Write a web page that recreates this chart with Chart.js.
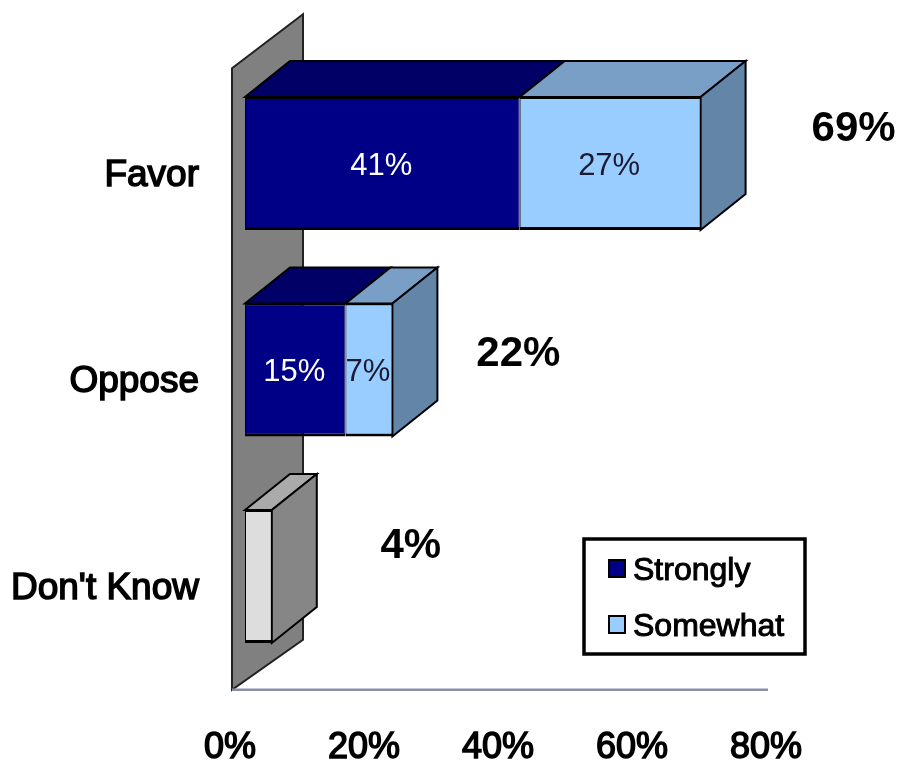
<!DOCTYPE html>
<html>
<head>
<meta charset="utf-8">
<title>Favor / Oppose</title>
<script src="https://cdn.jsdelivr.net/npm/chart.js@4"></script>
<style>
  html, body { margin: 0; padding: 0; background: #fff; }
  canvas { display: block; }
</style>
</head>
<body>
<canvas id="favorChart" width="901" height="762"></canvas>
<script>
  const categories = ["Favor", "Oppose", "Don't Know"];
  const strongly = [41, 15, null];
  const somewhat = [27, 7, null];
  const dontKnow = [null, null, 4];
  const totals = [69, 22, 4];

  const fontName = "'Liberation Sans', Arial, sans-serif";
  const depthX = 45;
  const depthY = 36;

  // front, top and side colours for each dataset
  const faces = [
    { front: "#000087", top: "#000066", side: "#000066" },
    { front: "#99ccff", top: "#7a9fc6", side: "#6285a8" },
    { front: "#dddddd", top: "#aaaaaa", side: "#868686" },
  ];

  // where the big total labels sit, relative to the end of each bar
  const totalOffsets = [[153, -34], [126, -16], [139, -30.5]];

  function poly(ctx, pts, fill, stroke, width) {
    ctx.beginPath();
    pts.forEach((p, i) => (i ? ctx.lineTo(p[0], p[1]) : ctx.moveTo(p[0], p[1])));
    ctx.closePath();
    ctx.fillStyle = fill;
    ctx.fill();
    ctx.strokeStyle = stroke;
    ctx.lineWidth = width;
    ctx.lineJoin = "miter";
    ctx.stroke();
  }

  const box3d = {
    id: "box3d",
    beforeDatasetsDraw(chart) {
      const ctx = chart.ctx;
      const area = chart.chartArea;
      const x0 = chart.scales.x.getPixelForValue(0) - 13;
      const xEnd = chart.scales.x.getPixelForValue(80) - 13;
      const wallTop = area.top + 8;
      const wallBottom = area.bottom + 10;

      // back wall
      poly(ctx, [
        [x0, wallTop],
        [x0 + 71, wallTop - 54],
        [x0 + 71, wallBottom - 50],
        [x0, wallBottom],
      ], "#808080", "#222222", 2);

      // floor line
      ctx.strokeStyle = "#8a8ea6";
      ctx.lineWidth = 2.5;
      ctx.beginPath();
      ctx.moveTo(x0, wallBottom);
      ctx.lineTo(xEnd, wallBottom);
      ctx.stroke();

      // tops and sides of the bars
      chart.data.datasets.forEach((ds, i) => {
        chart.getDatasetMeta(i).data.forEach((bar, j) => {
          if (ds.data[j] === null) return;
          const top = bar.y - bar.height / 2;
          const bottom = bar.y + bar.height / 2;
          poly(ctx, [
            [bar.base, top],
            [bar.base + depthX, top - depthY],
            [bar.x + depthX, top - depthY],
            [bar.x, top],
          ], faces[i].top, "#000", 2);

          const isLast = chart.data.datasets.slice(i + 1).every((d) => d.data[j] === null);
          if (isLast) {
            poly(ctx, [
              [bar.x, top],
              [bar.x + depthX, top - depthY],
              [bar.x + depthX, bottom - depthY],
              [bar.x, bottom],
            ], faces[i].side, "#000", 2);
          }
        });
      });
    },
    afterDraw(chart) {
      const ctx = chart.ctx;
      ctx.save();
      ctx.textBaseline = "middle";
      ctx.textAlign = "center";

      // values inside the segments
      ctx.font = "31px " + fontName;
      [0, 1].forEach((i) => {
        ctx.fillStyle = i === 0 ? "#ffffff" : "#1a1a33";
        chart.getDatasetMeta(i).data.forEach((bar, j) => {
          const v = chart.data.datasets[i].data[j];
          if (v === null) return;
          ctx.fillText(v + "%", (bar.base + bar.x) / 2 - 1, bar.y + 2.5);
        });
      });

      // totals
      ctx.font = "bold 42px " + fontName;
      ctx.fillStyle = "#000";
      totals.forEach((t, j) => {
        const end = chart.scales.x.getPixelForValue(
          (strongly[j] || 0) + (somewhat[j] || 0) + (dontKnow[j] || 0)
        );
        const yc = chart.scales.y.getPixelForValue(j);
        ctx.fillText(t + "%", end + totalOffsets[j][0], yc + totalOffsets[j][1]);
      });

      // legend
      ctx.fillStyle = "#fff";
      ctx.strokeStyle = "#000";
      ctx.lineWidth = 3.5;
      ctx.fillRect(584, 539, 221, 115);
      ctx.strokeRect(584, 539, 221, 115);
      ctx.textAlign = "left";
      ctx.font = "32px " + fontName;
      [0, 1].forEach((i) => {
        const yc = 569 + i * 56;
        ctx.fillStyle = faces[i].front;
        ctx.strokeStyle = "#000";
        ctx.lineWidth = 2;
        ctx.fillRect(609, yc - 9, 16, 17);
        ctx.strokeRect(609, yc - 9, 16, 17);
        ctx.fillStyle = "#000";
        ctx.lineWidth = 1;
        ctx.fillText(chart.data.datasets[i].label, 633, yc + 2);
        ctx.strokeText(chart.data.datasets[i].label, 633, yc + 2);
      });
      ctx.restore();
    },
  };

  new Chart(document.getElementById("favorChart"), {
    type: "bar",
    data: {
      labels: categories,
      datasets: [
        { label: "Strongly", data: strongly, backgroundColor: faces[0].front },
        { label: "Somewhat", data: somewhat, backgroundColor: faces[1].front },
        { label: "Don't Know", data: dontKnow, backgroundColor: faces[2].front },
      ].map((d) => ({
        ...d,
        borderColor: "#000",
        borderSkipped: false,
        borderWidth: { top: 2, bottom: 3, left: 1, right: 1 },
        categoryPercentage: 0.644,
        barPercentage: 1,
      })),
    },
    plugins: [box3d],
    options: {
      indexAxis: "y",
      responsive: false,
      animation: false,
      layout: { padding: { top: 60.25, right: 120, left: 0, bottom: 0 } },
      plugins: {
        legend: { display: false },
        title: { display: false },
        tooltip: { enabled: false },
      },
      scales: {
        x: {
          stacked: true,
          min: 0,
          max: 80,
          grid: { display: false, drawTicks: false },
          border: { display: false },
          afterFit(scale) {
            scale.height = 82.25;
            scale.paddingLeft = 0;
            scale.paddingRight = 0;
          },
          ticks: {
            stepSize: 20,
            padding: 46.75,
            labelOffset: -15,
            maxRotation: 0,
            color: "#000",
            font: { size: 36, family: fontName },
            textStrokeColor: "#000",
            textStrokeWidth: 1.5,
            callback: (v) => v + "%",
          },
        },
        y: {
          stacked: true,
          grid: { display: false, drawTicks: false },
          border: { display: false },
          afterFit(scale) {
            scale.width = 245;
            // tick padding would otherwise push the plot area down
            scale.paddingTop = 0;
            scale.paddingBottom = 0;
          },
          ticks: {
            padding: 46,
            labelOffset: 12,
            color: "#000",
            font: { size: 37, family: fontName },
            textStrokeColor: "#000",
            textStrokeWidth: 1.5,
          },
        },
      },
    },
  });
</script>
</body>
</html>
